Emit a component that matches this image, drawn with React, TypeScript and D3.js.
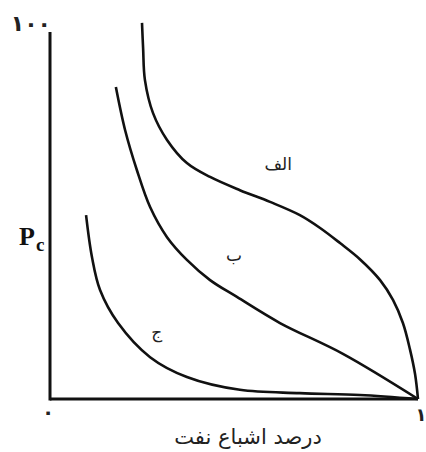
import React from 'react';
import * as d3 from 'd3';

// saturation (fraction) and capillary pressure
const curveAlefX = [0.25, 0.253, 0.258, 0.28, 0.318, 0.372, 0.435, 0.516, 0.598, 0.679, 0.734, 0.788, 0.842, 0.897, 0.932, 0.959, 0.978, 0.992, 1.0];
const curveAlefY = [102.5, 95.6, 86.9, 77.9, 70.6, 64.3, 60.5, 56.9, 53.7, 50.1, 46.6, 42.5, 38.1, 32.4, 27.0, 20.7, 13.6, 6.8, 0];

const curveBeX = [0.179, 0.204, 0.236, 0.272, 0.318, 0.372, 0.435, 0.508, 0.625, 0.796, 1.0];
const curveBeY = [85.0, 73.3, 62.4, 52.3, 44.1, 37.9, 32.4, 27.8, 20.7, 12.3, 0];

const curveJimX = [0.098, 0.114, 0.136, 0.185, 0.272, 0.372, 0.516, 0.679, 0.842, 1.0];
const curveJimY = [50.1, 38.7, 29.7, 20.7, 11.4, 6.0, 2.5, 1.6, 1.1, 0];

const curveNames = ['الف', 'ب', 'ج'];
const labelX = [0.62, 0.5, 0.29];
const labelY = [62.5, 37.5, 16.5];

const yTopLabel = '۱۰۰';
const xStartLabel = '۰';
const xEndLabel = '۱';
const xTitle = 'درصد اشباع نفت';

const W = 426;
const H = 452;
const margin = { top: 32, right: 8, bottom: 53, left: 50 };

export default function App() {
  const x = d3.scaleLinear().domain([0, 1]).range([margin.left, W - margin.right]);
  const y = d3.scaleLinear().domain([0, 100]).range([H - margin.bottom, margin.top]);

  const line = d3
    .line<[number, number]>()
    .x(d => x(d[0]))
    .y(d => y(d[1]))
    .curve(d3.curveCatmullRom.alpha(0.5));

  const series: [number[], number[]][] = [
    [curveAlefX, curveAlefY],
    [curveBeX, curveBeY],
    [curveJimX, curveJimY],
  ];

  const font = 'DejaVu Sans, sans-serif';

  return (
    <svg
      width={W}
      height={H}
      style={{ position: 'absolute', left: 0, top: 0, background: '#fff' }}
    >
      {/* axes, no ticks */}
      <line x1={x(0)} x2={x(0)} y1={y(100)} y2={y(0) + 1.5} stroke="#111" strokeWidth={3} />
      <line x1={x(0)} x2={x(1)} y1={y(0)} y2={y(0)} stroke="#111" strokeWidth={3} />

      {series.map(([xs, ys], i) => (
        <path
          key={i}
          d={line(xs.map((v, j) => [v, ys[j]] as [number, number])) || ''}
          fill="none"
          stroke="#111"
          strokeWidth={2.6}
        />
      ))}

      {curveNames.map((n, i) => (
        <text
          key={n}
          x={x(labelX[i])}
          y={y(labelY[i])}
          textAnchor="middle"
          fontFamily={font}
          fontSize={17}
          fill="#222"
        >
          {n}
        </text>
      ))}

      <text x={x(0) + 1} y={y(100) - 1} textAnchor="end" fontFamily={font} fontWeight="bold" fontSize={22} fill="#222">
        {yTopLabel}
      </text>
      <text x={x(0) - 2} y={y(0) + 20} textAnchor="middle" fontFamily={font} fontWeight="bold" fontSize={20} fill="#222">
        {xStartLabel}
      </text>
      <text x={x(1) + 3} y={y(0) + 22} textAnchor="middle" fontFamily={font} fontWeight="bold" fontSize={18} fill="#222">
        {xEndLabel}
      </text>

      <text x={19} y={y(100 - 58)} fontFamily="Liberation Serif, serif" fontWeight="bold" fontSize={26} fill="#111">
        P
        <tspan dx={1} dy={6} fontSize={19}>c</tspan>
      </text>

      <text x={248} y={H - 8} textAnchor="middle" fontFamily={font} fontSize={21} fill="#222">
        {xTitle}
      </text>
    </svg>
  );
}
